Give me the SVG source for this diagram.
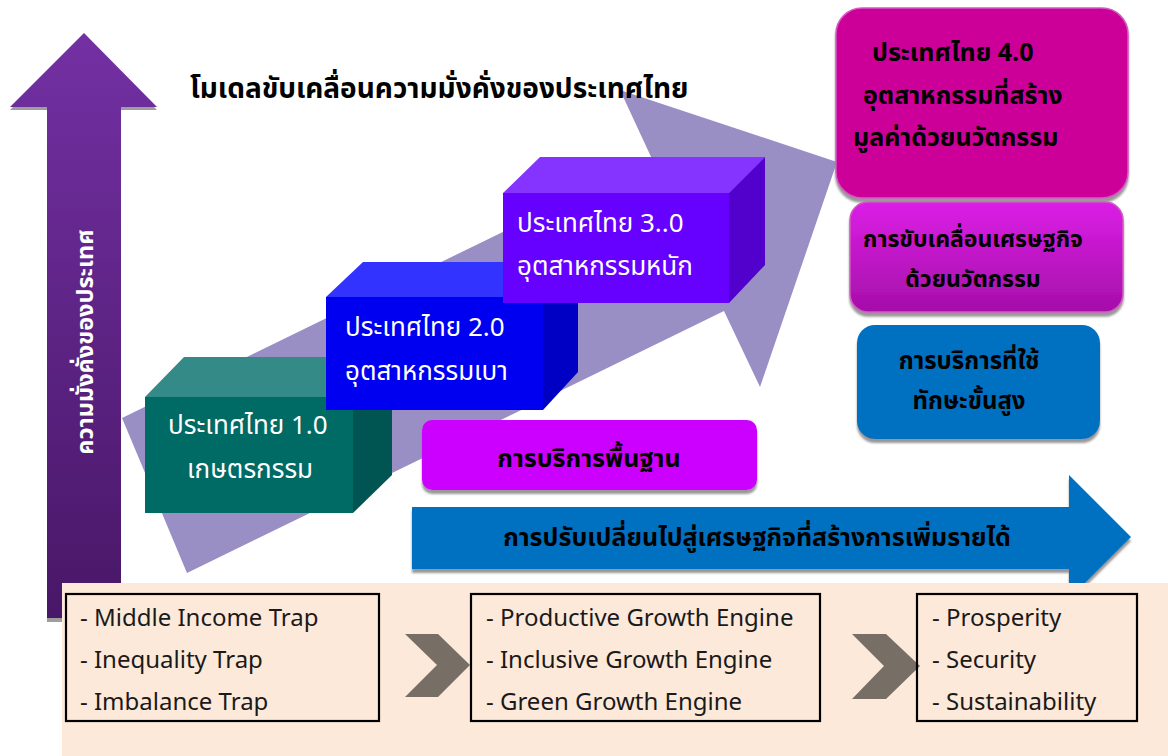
<svg xmlns="http://www.w3.org/2000/svg" width="1168" height="756" viewBox="0 0 1168 756">
<style>
.th{font-family:"Noto Sans Thai","Noto Sans","DejaVu Sans",sans-serif;font-weight:bold}
.w{fill:#ffffff;font-size:26px;font-weight:normal}
.k{fill:#000000;font-size:23px}
.en{font-family:"Noto Sans Thai","Noto Sans",sans-serif;font-size:24px;fill:#1a1a1a}
.box{fill:none;stroke:#000;stroke-width:2.2}
.chev{fill:#776f66}
</style>
<defs>
<linearGradient id="gPurple" x1="0" y1="0" x2="0" y2="1">
<stop offset="0" stop-color="#7330a3"/>
<stop offset="1" stop-color="#481767"/>
</linearGradient>
<linearGradient id="gMag" x1="0" y1="0" x2="0" y2="1">
<stop offset="0" stop-color="#dc1ee6"/>
<stop offset="1" stop-color="#a50fa8"/>
</linearGradient>
<filter id="sh" x="-5%" y="-5%" width="110%" height="120%">
<feDropShadow dx="0" dy="4" stdDeviation="1.2" flood-color="#7f7f7f" flood-opacity="0.8"/>
</filter>
</defs>
<rect width="1168" height="756" fill="#ffffff"/>

<g id="bigArrow">
<polygon points="122,418 652,159 620,90 837,162 760,387 724,311 187,573" fill="#9a8fc5"/>
</g>

<g id="title">
<text class="th" x="190" y="98" style="font-size:28px;fill:#000">โมเดลขับเคลื่อนความมั่งคั่งของประเทศไทย</text>
</g>

<g id="wealthAxis">
<polygon points="84,36 157,110 121,110 121,622 47,622 47,110 10,110" fill="#9e9e9e"/>
<polygon points="84,33 157,107 121,107 121,618 47,618 47,107 10,107" fill="url(#gPurple)"/>
<text class="th" transform="translate(93,342) rotate(-90)" text-anchor="middle" style="font-size:23.5px;fill:#fff">ความมั่งคั่งของประเทศ</text>
</g>

<g id="thailand1">
<polygon points="145,397 184,357 392,357 353,397" fill="#338a86"/>
<polygon points="353,397 392,357 392,475 353,513" fill="#005552"/>
<rect x="145" y="397" width="208" height="116" fill="#006a65"/>
<text class="th w" x="168" y="434">ประเทศไทย 1.0</text>
<text class="th w" x="250" y="478" text-anchor="middle">เกษตรกรรม</text>
</g>

<g id="thailand2">
<polygon points="326,297 363,262 578,262 543,297" fill="#3333ff"/>
<polygon points="543,297 578,262 578,372 543,410" fill="#0000c4"/>
<rect x="326" y="297" width="217" height="113" fill="#0000f0"/>
<text class="th w" x="345" y="336">ประเทศไทย 2.0</text>
<text class="th w" x="345" y="380">อุตสาหกรรมเบา</text>
</g>

<g id="thailand3">
<polygon points="503,193 540,157 765,157 729,193" fill="#8533ff"/>
<polygon points="729,193 765,157 765,265 729,303" fill="#5200cc"/>
<rect x="503" y="193" width="226" height="110" fill="#6600ff"/>
<text class="th w" x="517" y="232">ประเทศไทย 3..0</text>
<text class="th w" x="517" y="275">อุตสาหกรรมหนัก</text>
</g>

<g id="basicService">
<rect x="422" y="420" width="335" height="70" rx="10" fill="#cc00ff" filter="url(#sh)"/>
<text class="th k" x="589" y="467" text-anchor="middle" style="font-size:25px">การบริการพื้นฐาน</text>
</g>

<g id="transitionArrow">
<polygon points="412,507 1069,507 1069,475 1131,537 1069,599 1069,569 412,569" fill="#0070c0" filter="url(#sh)"/>
<text class="th k" x="757" y="546" text-anchor="middle" style="font-size:25px">การปรับเปลี่ยนไปสู่เศรษฐกิจที่สร้างการเพิ่มรายได้</text>
</g>

<g id="thailand4">
<rect x="836" y="8" width="292" height="190" rx="26" fill="#cc0099" stroke="#d35ac4" stroke-width="1.5" filter="url(#sh)"/>
<text class="th k" x="872" y="61" style="font-size:25px">ประเทศไทย 4.0</text>
<text class="th k" x="863" y="104" style="font-size:25px">อุตสาหกรรมที่สร้าง</text>
<text class="th k" x="853" y="146" style="font-size:25px">มูลค่าด้วยนวัตกรรม</text>
</g>

<g id="innovationDrive">
<rect x="850" y="202" width="273" height="110" rx="18" fill="url(#gMag)" stroke="#d35ac4" stroke-width="1.5" filter="url(#sh)"/>
<text class="th k" x="973" y="247" text-anchor="middle">การขับเคลื่อนเศรษฐกิจ</text>
<text class="th k" x="973" y="287" text-anchor="middle">ด้วยนวัตกรรม</text>
</g>

<g id="advancedService">
<rect x="857" y="325" width="243" height="114" rx="18" fill="#0070c0" filter="url(#sh)"/>
<text class="th k" x="969" y="369" text-anchor="middle" style="font-size:24px">การบริการที่ใช้</text>
<text class="th k" x="969" y="409" text-anchor="middle" style="font-size:24px">ทักษะขั้นสูง</text>
</g>

<g id="bottomPanel">
<rect x="62" y="583" width="1106" height="173" fill="#fde9d9"/>
</g>

<g id="connectors">
<polygon class="chev" points="405,634 438,634 470,665 438,697 405,697 437,665"/>
<polygon class="chev" points="852,634 886,634 920,666 886,699 852,699 884,666"/>
</g>

<g id="traps">
<rect class="box" x="66" y="594" width="313" height="127"/>
<text class="en" x="80" y="626">- Middle Income Trap</text>
<text class="en" x="80" y="668">- Inequality Trap</text>
<text class="en" x="80" y="710">- Imbalance Trap</text>
</g>

<g id="engines">
<rect class="box" x="471" y="594" width="349" height="127"/>
<text class="en" x="486" y="626">- Productive Growth Engine</text>
<text class="en" x="486" y="668">- Inclusive Growth Engine</text>
<text class="en" x="486" y="710">- Green Growth Engine</text>
</g>

<g id="outcomes">
<rect class="box" x="917" y="594" width="220" height="127"/>
<text class="en" x="932" y="626">- Prosperity</text>
<text class="en" x="932" y="668">- Security</text>
<text class="en" x="932" y="710">- Sustainability</text>
</g>
</svg>
